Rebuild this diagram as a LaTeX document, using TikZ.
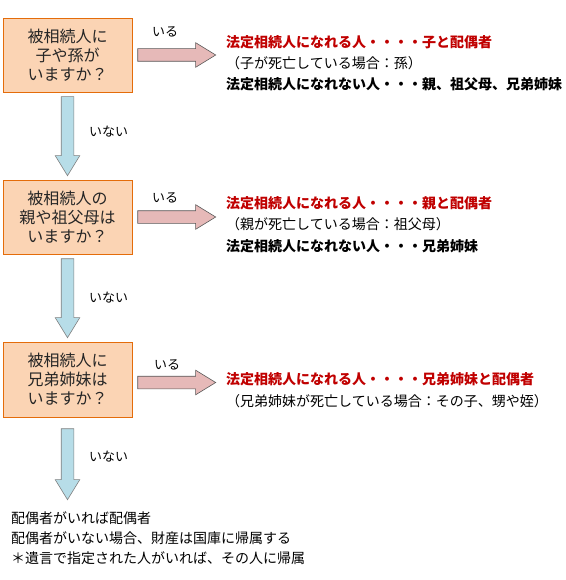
\documentclass[tikz,border=0pt]{standalone}
\usepackage{fontspec}
\setmainfont{Noto Sans CJK JP}
\usetikzlibrary{shapes.arrows,calc}
\definecolor{boxfill}{HTML}{FBD4B4}
\definecolor{boxline}{HTML}{E46C0A}
\definecolor{yesfill}{HTML}{E6B9B8}
\definecolor{nofill}{HTML}{B7DDE8}
\definecolor{resred}{HTML}{C00000}
\begin{document}
\begin{tikzpicture}[x=1pt,y=-1pt,
    question/.style={draw=boxline,fill=boxfill,line width=0.8pt,minimum width=129pt,
      align=center,text=black!85,font=\fontsize{16pt}{19pt}\selectfont},
    blockarrow/.style={single arrow,inner xsep=0pt,inner ysep=6pt,
      single arrow head extend=6pt,single arrow tip angle=63,line width=0.6pt},
    yesarrow/.style={blockarrow,draw=black!65,fill=yesfill,minimum height=78pt},
    noarrow/.style={blockarrow,draw=black!50,fill=nofill,rotate=-90},
    edgelabel/.style={font=\fontsize{13pt}{15pt}\selectfont},
    result/.style={anchor=west,inner sep=0pt,font=\fontsize{14pt}{16pt}\selectfont},
    can/.style={result,text=resred,font=\fontsize{14pt}{16pt}\selectfont\bfseries},
    cannot/.style={result,font=\fontsize{14pt}{16pt}\selectfont\bfseries}]
  \useasboundingbox (0,0) rectangle (565,580);
  % --- the three questions ---
  \node[question,minimum height=74pt] (q1) at (67.5,55)
    {被相続人に\\子や孫が\\いますか？};
  \node[question,minimum height=74pt] (q2) at (67.5,217)
    {被相続人の\\親や祖父母は\\いますか？};
  \node[question,minimum height=75pt] (q3) at (67.5,379.5)
    {被相続人に\\兄弟姉妹は\\いますか？};
  % --- いる: arrows to the right ---
  \node[yesarrow,anchor=tail] (y1) at ($(q1.east)+(5,0)$) {};
  \node[yesarrow,anchor=tail] (y2) at ($(q2.east)+(5,0)$) {};
  \node[yesarrow,anchor=tail] (y3) at ($(q3.east)+(5,3)$) {};
  \node[edgelabel] at (165,32) {いる};
  \node[edgelabel] at (165,198) {いる};
  \node[edgelabel] at (167,365) {いる};
  % --- いない: arrows downwards ---
  \node[noarrow,anchor=tail,minimum height=79pt] (n1) at ($(q1.south)+(0,4)$) {};
  \node[noarrow,anchor=tail,minimum height=79pt] (n2) at ($(q2.south)+(0,4)$) {};
  \node[noarrow,anchor=tail,minimum height=71pt] (n3) at ($(q3.south)+(0,11)$) {};
  \node[edgelabel] at (108.5,132) {いない};
  \node[edgelabel] at (108.5,298) {いない};
  \node[edgelabel] at (108.5,457) {いない};
  % --- who inherits ---
  \node[can] (r1a) at (226,42) {法定相続人になれる人・・・・子と配偶者};
  \node[result] (r1b) at (226,63) {（子が死亡している場合：孫）};
  \node[cannot] (r1c) at (226,84) {法定相続人になれない人・・・親、祖父母、兄弟姉妹};
  \node[can] (r2a) at (226,203) {法定相続人になれる人・・・・親と配偶者};
  \node[result] (r2b) at (226,224) {（親が死亡している場合：祖父母）};
  \node[cannot] (r2c) at (226,246) {法定相続人になれない人・・・兄弟姉妹};
  \node[can] (r3a) at (226,379) {法定相続人になれる人・・・・兄弟姉妹と配偶者};
  \node[result] (r3b) at (226,401) {（兄弟姉妹が死亡している場合：その子、甥や姪）};
  % --- nobody left ---
  \node[result] (e1) at (11,518) {配偶者がいれば配偶者};
  \node[result] (e2) at (11,538) {配偶者がいない場合、財産は国庫に帰属する};
  \node[result] (e3) at (11,558) {＊遺言で指定された人がいれば、その人に帰属};
\end{tikzpicture}
\end{document}
